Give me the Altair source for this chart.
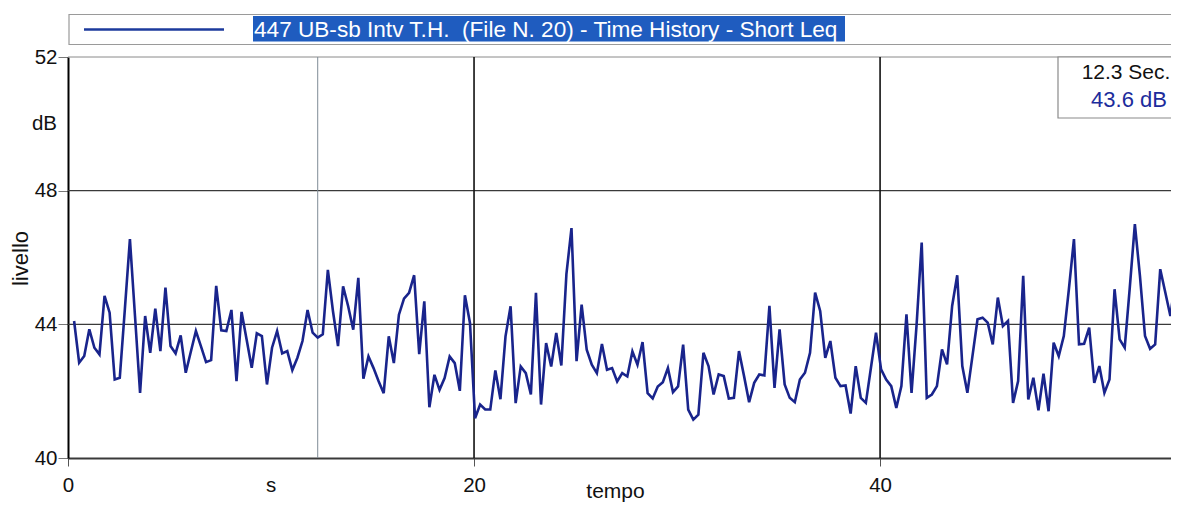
import altair as alt
import pandas as pd

FONT = "Liberation Sans"

# ---- data -----------------------------------------------------------------
T0 = 0.3      # time of the first sample (s)
STEP = 0.25   # sampling interval (s)
levels = [
    44.1, 42.85, 43.05, 43.85, 43.3, 43.1, 44.85, 44.35, 42.35, 42.4,
    44.45, 46.55, 44.25, 41.95, 44.25, 43.15, 44.47, 43.2, 45.1, 43.35,
    43.13, 43.67, 42.55, 43.18, 43.8, 43.34, 42.87, 42.93, 45.15, 43.82,
    43.8, 44.43, 42.3, 44.37, 43.54, 42.7, 43.73, 43.65, 42.2, 43.3,
    43.8, 43.13, 43.2, 42.63, 43.0, 43.5, 44.43, 43.75, 43.6, 43.7,
    45.63, 44.4, 43.35, 45.14, 44.54, 43.84, 45.39, 42.37, 43.04, 42.69,
    42.3, 41.94, 43.64, 42.84, 44.29, 44.77, 44.94, 45.47, 43.11, 44.69,
    41.52, 42.49, 42.04, 42.39, 43.04, 42.84, 42.01, 44.87, 44.04, 41.19,
    41.6, 41.45, 41.45, 42.62, 41.76, 43.64, 44.54, 41.64, 42.74, 42.54,
    41.9, 44.94, 41.6, 43.44, 42.74, 43.74, 42.77, 45.5, 46.88, 42.9,
    44.59, 43.24, 42.79, 42.54, 43.41, 42.64, 42.69, 42.29, 42.54, 42.44,
    43.19, 42.79, 43.47, 41.94, 41.78, 42.14, 42.27, 42.69, 41.97, 42.14,
    43.39, 41.45, 41.15, 41.3, 43.15, 42.75, 41.9, 42.5, 42.45, 41.78,
    41.8, 43.2, 42.45, 41.67, 42.25, 42.5, 42.47, 44.55, 42.1, 43.85,
    42.2, 41.8, 41.67, 42.35, 42.55, 43.15, 44.95, 44.4, 43.0, 43.5,
    42.4, 42.15, 42.17, 41.33, 42.75, 41.8, 41.65, 42.7, 43.75, 42.65,
    42.35, 42.15, 41.5, 42.15, 44.3, 41.95, 44.0, 46.45, 41.8, 41.9,
    42.15, 43.25, 42.8, 44.55, 45.47, 42.75, 41.95, 43.05, 44.15, 44.2,
    44.05, 43.4, 44.8, 43.95, 44.1, 41.65, 42.3, 45.45, 41.75, 42.4,
    41.43, 42.52, 41.4, 43.45, 43.05, 43.65, 45.05, 46.55, 43.4, 43.42,
    43.9, 42.25, 42.75, 41.95, 42.35, 45.05, 43.55, 43.3, 45.1, 47.0,
    45.45, 43.65, 43.27, 43.4, 45.65, 44.95, 44.25, 45.35, 46.4,
]
times = [round(T0 + STEP * i, 3) for i in range(len(levels))]

x_ticks = [0, 20, 40]
y_ticks = [40, 44, 48, 52]
x_grid = [20, 40]
y_grid = [44, 48]
y_top = [52]
x_domain = [0, 54.33]
y_domain = [40, 52]
cursor_t = 12.3
cursor_db = 43.6
x_unit, x_unit_at = "s", 10
y_unit, y_unit_at = "dB", 50
series_name = "447 UB-sb Intv T.H.\u00a0 (File N. 20) - Time History - Short Leq"
x_title = "tempo"
y_title = "livello"

LINE_COLOR = "#19248c"
W, H = 1103, 401

df = pd.DataFrame({"t": times, "db": levels})
one = pd.DataFrame({"k": [0]})

xs = alt.Scale(domain=x_domain, nice=False, zero=False)
ys = alt.Scale(domain=y_domain, nice=False, zero=False)

XAXIS = alt.Axis(
    values=x_ticks, format="d", grid=False, title=x_title, labelFlush=False,
    domainColor="#3a3a3a", domainWidth=2, tickColor="#555", tickSize=8,
    labelFontSize=20.5, labelPadding=9, labelColor="#111", labelFont=FONT,
    titleFont=FONT, titleFontSize=21, titleFontWeight="normal", titleColor="#111",
    titleX=547, titleY=39.5, titleBaseline="alphabetic", titleAlign="center")
YAXIS = alt.Axis(
    values=y_ticks, format="d", grid=False, title=y_title, labelFlush=False,
    domainColor="#000", domainWidth=2, tickColor="#777", tickSize=10,
    labelFontSize=20.5, labelPadding=1, labelColor="#111", labelFont=FONT,
    titleFont=FONT, titleFontSize=22, titleFontWeight="normal", titleColor="#111",
    titleAngle=270, titleX=-48, titleY=201, titleBaseline="middle", titleAlign="center")


def X(field):
    return alt.X(field, scale=xs, axis=XAXIS)


def Y(field):
    return alt.Y(field, scale=ys, axis=YAXIS)


line = alt.Chart(df).mark_line(color=LINE_COLOR, strokeWidth=2.6, clip=True).encode(
    x=X("t:Q"), y=Y("db:Q"))

top_edge = alt.Chart(pd.DataFrame({"g": y_top})).mark_rule(color="#8a8a8a", strokeWidth=1).encode(
    y=Y("g:Q"))
ygrid = alt.Chart(pd.DataFrame({"g": y_grid})).mark_rule(color="#3a3a3a", strokeWidth=1.4).encode(
    y=Y("g:Q"))
xgrid = alt.Chart(pd.DataFrame({"g": x_grid})).mark_rule(color="#111", strokeWidth=1.6).encode(
    x=X("g:Q"))
cursor = alt.Chart(pd.DataFrame({"c": [cursor_t]})).mark_rule(color="#7f8c96", strokeWidth=1).encode(
    x=X("c:Q"))

# unit labels on the axes
s_lab = alt.Chart(pd.DataFrame({"u": [x_unit_at], "txt": [x_unit]})).mark_text(
    font=FONT, fontSize=20.5, color="#111", baseline="alphabetic", align="center").encode(
    x=X("u:Q"), y=alt.value(H + 34), text="txt:N")
db_lab = alt.Chart(pd.DataFrame({"u": [y_unit_at], "txt": [y_unit]})).mark_text(
    font=FONT, fontSize=20.5, color="#111", baseline="middle", align="right").encode(
    y=Y("u:Q"), x=alt.value(-11), text="txt:N")

# legend strip above the plot
leg_box = alt.Chart(one).mark_rect(fill="white", stroke="#9a9a9a", strokeWidth=1.2).encode(
    x=alt.value(1), x2=alt.value(W + 20), y=alt.value(-42.5), y2=alt.value(-12.5))
leg_line = alt.Chart(one).mark_rule(color="#1c3a9c", strokeWidth=2.5).encode(
    x=alt.value(16), x2=alt.value(156), y=alt.value(-27.5))
leg_hl = alt.Chart(one).mark_rect(fill="#1f5cbf").encode(
    x=alt.value(185), x2=alt.value(777), y=alt.value(-41), y2=alt.value(-15.5))
leg_txt = alt.Chart(pd.DataFrame({"txt": [series_name]})).mark_text(
    font=FONT, fontSize=22.6, color="white", align="left", baseline="alphabetic").encode(
    x=alt.value(186), y=alt.value(-20.5), text="txt:N")

# cursor readout box
cur_box = alt.Chart(one).mark_rect(fill="white", stroke="#8a8a8a", strokeWidth=1.2).encode(
    x=alt.value(990), x2=alt.value(W + 20), y=alt.value(0), y2=alt.value(61))
cur_t = alt.Chart(pd.DataFrame({"txt": [f"{cursor_t:.1f} Sec."]})).mark_text(
    font=FONT, fontSize=21, color="#111", align="center", baseline="alphabetic").encode(
    x=alt.value(1058), y=alt.value(21.5), text="txt:N")
cur_v = alt.Chart(pd.DataFrame({"txt": [f"{cursor_db:.1f} dB"]})).mark_text(
    font=FONT, fontSize=22, color="#1c2c9c", align="center", baseline="alphabetic").encode(
    x=alt.value(1061), y=alt.value(50), text="txt:N")

chart = alt.layer(
    top_edge, ygrid, xgrid, cursor, line, s_lab, db_lab,
    leg_box, leg_line, leg_hl, leg_txt, cur_box, cur_t, cur_v,
).properties(
    width=W, height=H,
    autosize=alt.AutoSizeParams(type="none"),
    padding={"left": 60, "top": 49, "right": 0, "bottom": 44},
    background="white",
).configure_view(strokeWidth=0)

chart.save("out.html", embed_options={"renderer": "svg", "actions": False})
